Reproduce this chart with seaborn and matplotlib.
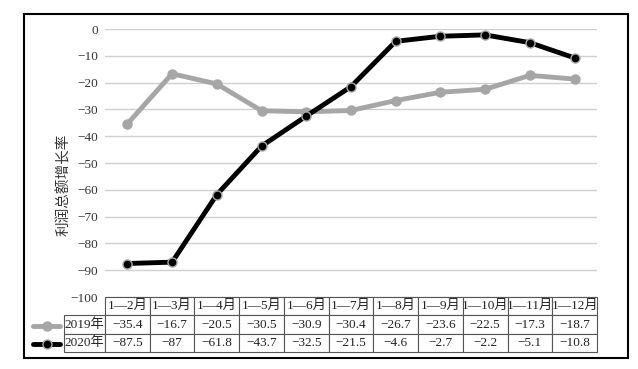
import matplotlib
matplotlib.use("Agg")
import matplotlib.pyplot as plt
import numpy as np
import pandas as pd
import seaborn as sns
from matplotlib.lines import Line2D
from matplotlib.patches import Rectangle

# data
months = ["1—2月", "1—3月", "1—4月", "1—5月", "1—6月", "1—7月",
          "1—8月", "1—9月", "1—10月", "1—11月", "1—12月"]
y2019 = [-35.4, -16.7, -20.5, -30.5, -30.9, -30.4, -26.7, -23.6, -22.5, -17.3, -18.7]
y2020 = [-87.5, -87, -61.8, -43.7, -32.5, -21.5, -4.6, -2.7, -2.2, -5.1, -10.8]
series_names = ["2019年", "2020年"]
yticks = list(range(0, -101, -10))

sns.set_theme(style="white")
plt.rcParams['font.family'] = ['Liberation Serif', 'Noto Sans CJK SC']
plt.rcParams['axes.unicode_minus'] = True

df = pd.DataFrame({
    "idx": list(range(len(months))) * 2,
    "value": y2019 + y2020,
    "year": [series_names[0]] * len(months) + [series_names[1]] * len(months),
})

W, H = 638, 369
fig = plt.figure(figsize=(W / 100, H / 100), dpi=100)
ax = fig.add_axes([105 / W, 1 - 297 / H, 492 / W, 268 / H])

gray = "#a6a6a6"
colors = {series_names[0]: gray, series_names[1]: "black"}
for name in series_names:
    sub = df[df["year"] == name]
    sns.lineplot(data=sub, x="idx", y="value", ax=ax, color=colors[name],
                 linewidth=3.5, marker="o", markersize=6.5,
                 markerfacecolor=colors[name], markeredgecolor=gray,
                 markeredgewidth=1.0, legend=False)

ax.set_xlim(-0.5, len(months) - 0.5)
ax.set_ylim(-100, 0)
ax.set_yticks(yticks)
ax.set_yticklabels([str(v).replace("-", "\u2212") for v in yticks], fontsize=9.5)
ax.tick_params(axis="y", length=0, pad=5, colors="#333333")
ax.set_xticks([])
ax.set_xlabel("")
ax.set_ylabel("利润总额增长率", fontsize=10.5, color="#333333")
# the title sits a bit below the middle of the axis, like the reference
ax.yaxis.set_label_coords(-0.07, 0.42)
ax.yaxis.grid(True, color="#d0d0d0", linewidth=1)
for s in ["top", "right", "left", "bottom"]:
    ax.spines[s].set_visible(False)

def fmt(v):
    s = ("%g" % v)
    return s.replace("-", "\u2212")

cell_text = [[fmt(v) for v in y2019], [fmt(v) for v in y2020]]
label_w = 74 / 492
tbl = ax.table(cellText=cell_text, rowLabels=series_names, colLabels=months,
               cellLoc="center", rowLoc="right", colLoc="center",
               bbox=[0, -55 / 268, 1, 55 / 268])
tbl.auto_set_font_size(False)
tbl.set_fontsize(9.5)
for (r, c), cell in tbl.get_celld().items():
    cell.set_edgecolor("#555555")
    cell.set_linewidth(0.8)
    cell.set_width(label_w if c == -1 else 1 / len(months))
    cell.get_text().set_color("#222222")
    if c == -1:
        cell.PAD = 0.02

# legend keys inside the row-label cells
for i, name in enumerate(series_names):
    yc = 1 - (326 + 17.5 * i) / H
    key = Line2D([33 / W, 46.5 / W, 60 / W], [yc, yc, yc],
                 transform=fig.transFigure, color=colors[name], linewidth=3.5,
                 marker="o", markersize=6.5, markevery=[1],
                 markerfacecolor=colors[name], markeredgecolor=gray,
                 markeredgewidth=1.0)
    fig.add_artist(key)

# outer frame
fig.add_artist(Rectangle((24 / W, 1 - 358 / H), 604 / W, 344 / H,
                         transform=fig.transFigure, fill=False,
                         edgecolor="black", linewidth=1.5))

fig.savefig("out.png", dpi=100)
